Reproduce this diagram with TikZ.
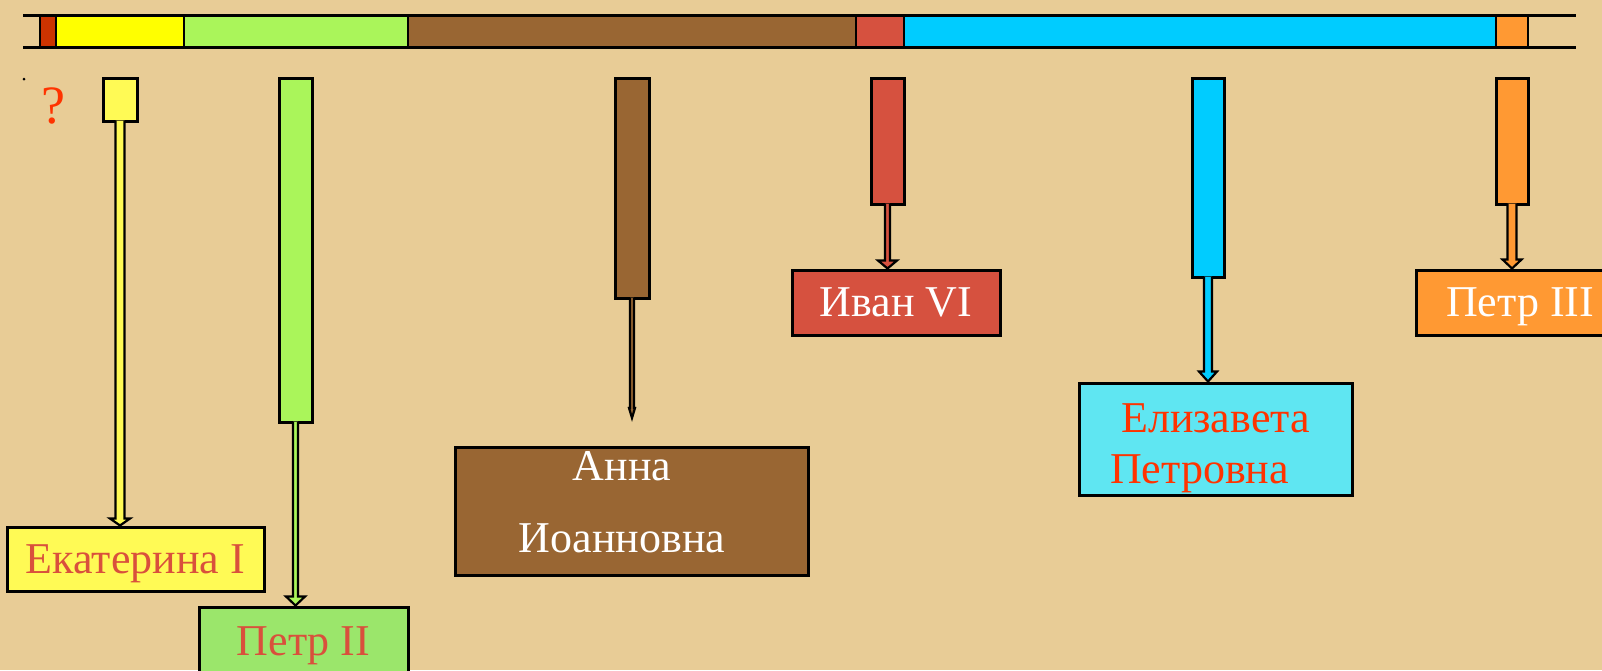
\documentclass[tikz,border=0pt]{standalone}
\usepackage{fontspec}
\setmainfont{Liberation Serif}
\usetikzlibrary{calc}

\definecolor{parchment}{HTML}{E8CC96}
\definecolor{bardark}{HTML}{CC3300}
\definecolor{baryellow}{HTML}{FFFF00}
\definecolor{ekyellow}{HTML}{FFFA55}
\definecolor{pgreen}{HTML}{AAF55A}
\definecolor{pboxgreen}{HTML}{9BE66B}
\definecolor{anbrown}{HTML}{996633}
\definecolor{ivred}{HTML}{D6513F}
\definecolor{elcyan}{HTML}{00CCFF}
\definecolor{elboxcyan}{HTML}{5FE6F2}
\definecolor{porange}{HTML}{FF9933}
\definecolor{namered}{HTML}{D9503C}
\definecolor{qred}{HTML}{FF3300}

\begin{document}
\begin{tikzpicture}[x=1pt,y=-1pt,
    reignbar/.style={draw,line width=3pt,inner sep=0pt,minimum width=33pt},
    namebox/.style={draw,line width=3pt,inner sep=0pt,align=center,text depth=0pt,
                    font=\fontsize{44}{51}\selectfont},
    shaftarrow/.style args={#1/#2/#3}{line width=2.2pt,
      to path={($(\tikztostart)+(-#1,-2)$) -- ($(\tikztotarget)+(-#1,-#3)$)
               -- ($(\tikztotarget)+(-#2,-#3)$) -- (\tikztotarget)
               -- ($(\tikztotarget)+(#2,-#3)$) -- ($(\tikztotarget)+(#1,-#3)$)
               -- ($(\tikztostart)+(#1,-2)$)}}
  ]
  \clip (0,0) rectangle (1602,670);
  \fill[parchment] (0,0) rectangle (1602,670);

  % time line
  \draw[line width=2pt,fill=bardark]    (40,15) rectangle (56,47);
  \draw[line width=2pt,fill=baryellow]  (56,15) rectangle (184,47);
  \draw[line width=2pt,fill=pgreen]     (184,15) rectangle (408,47);
  \draw[line width=2pt,fill=anbrown]    (408,15) rectangle (856,47);
  \draw[line width=2pt,fill=ivred]      (856,15) rectangle (904,47);
  \draw[line width=2pt,fill=elcyan]     (904,15) rectangle (1496,47);
  \draw[line width=2pt,fill=porange]    (1496,15) rectangle (1528,47);
  \draw[line width=3pt] (23,15) -- (1576,15);
  \draw[line width=3pt] (23,47) -- (1576,47);

  \fill (24,79) circle (1.5);
  \node[text=qred,font=\fontsize{54}{60}\selectfont] (q) at (53.5,106) {?};

  % reigns
  \node[reignbar,fill=ekyellow,minimum width=34pt,minimum height=43pt] (ekhead) at (120,99.5) {};
  \node[reignbar,fill=pgreen,minimum height=344pt] (p2head) at (295.5,250) {};
  \node[reignbar,fill=anbrown,minimum width=34pt,minimum height=220pt] (anhead) at (632,188) {};
  \node[reignbar,fill=ivred,minimum height=126pt] (ivhead) at (887.5,141) {};
  \node[reignbar,fill=elcyan,minimum width=32pt,minimum height=199pt] (elhead) at (1208,177.5) {};
  \node[reignbar,fill=porange,minimum width=32pt,minimum height=126pt] (p3head) at (1512,141) {};

  % names
  \node[namebox,fill=ekyellow,text=namered,minimum width=257pt,minimum height=64pt] (ek) at (135.5,559) {Екатерина I};
  \node[namebox,fill=pboxgreen,text=namered,minimum width=209pt,minimum height=69pt] (p2) at (303.5,641.5) {Петр II};
  \node[namebox,fill=anbrown,text=white,minimum width=353pt,minimum height=128pt,
        font=\fontsize{44}{72}\selectfont,text depth=19pt] (an) at (631.5,511)
        {Анна\hspace*{19pt}\\Иоанновна\hspace*{19pt}};
  \node[namebox,fill=ivred,text=white,minimum width=208pt,minimum height=65pt] (iv) at (896,302.5) {Иван VI};
  \node[namebox,fill=elboxcyan,text=qred,minimum width=273pt,minimum height=112pt,text height=88pt] (el) at (1215.5,439)
        {Елизавета\\Петровна\hspace*{32pt}};
  \node[namebox,fill=porange,text=white,minimum width=208pt,minimum height=65pt] (p3) at (1520,302.5) {Петр III};

  \coordinate (antip) at (632,418);

  \draw[shaftarrow=4.5/10/7,fill=ekyellow] (ekhead.south) to (ekhead.south |- ek.north);
  \draw[shaftarrow=2.5/9.5/9,fill=pgreen] (p2head.south) to (p2head.south |- p2.north);
  \draw[shaftarrow=2/3/10,fill=anbrown] (anhead.south) to (antip);
  \draw[shaftarrow=2.5/9.5/8,fill=ivred] (ivhead.south) to (ivhead.south |- iv.north);
  \draw[shaftarrow=4/9/10,fill=elcyan] (elhead.south) to (elhead.south |- el.north);
  \draw[shaftarrow=4.5/9.5/9,fill=porange] (p3head.south) to (p3head.south |- p3.north);
\end{tikzpicture}
\end{document}
